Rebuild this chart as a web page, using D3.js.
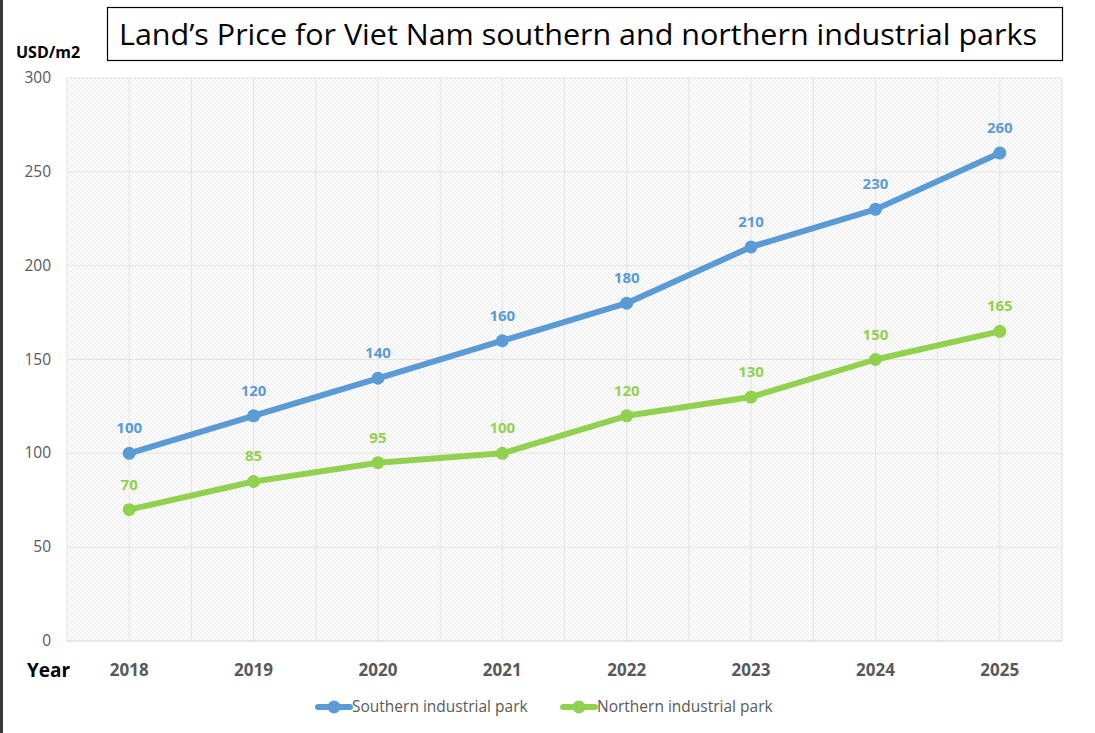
<!DOCTYPE html>
<html lang="en">
<head>
<meta charset="UTF-8">
<title>Land's Price for Viet Nam industrial parks</title>
<script src="https://d3js.org/d3.v7.min.js"></script>
<style>
    body { margin: 0; background: #fff; }
    svg { display: block; }
    .ytick text { font: 15.5px "Open Sans", sans-serif; fill: #595959; }
    .xtick text { font: bold 17px "Open Sans", sans-serif; fill: #595959; }
    .legend text { font: 15.5px "Open Sans", sans-serif; fill: #595959; }
    .label { font: bold 15px "Open Sans", sans-serif; }
</style>
</head>
<body>
<div id="chart"></div>
<script>
    // data
    const years = ["2018", "2019", "2020", "2021", "2022", "2023", "2024", "2025"];
    const southern = [100, 120, 140, 160, 180, 210, 230, 260];
    const northern = [70, 85, 95, 100, 120, 130, 150, 165];
    const yTicks = [0, 50, 100, 150, 200, 250, 300];

    const width = 1095, height = 733;
    const plot = {left: 67, right: 1062, top: 78, bottom: 641};

    const svg = d3.select("#chart").append("svg")
        .attr("width", width)
        .attr("height", height);

    // left dark border
    svg.append("rect").attr("x", 0).attr("y", 0).attr("width", 3).attr("height", height).attr("fill", "#3a3a3a");

    const x = d3.scaleBand().domain(years).range([plot.left, plot.right]);
    const y = d3.scaleLinear().domain([0, 300]).range([plot.bottom, plot.top]);

    // hatch pattern for plot background
    const defs = svg.append("defs");
    const pat = defs.append("pattern")
        .attr("id", "hatch")
        .attr("patternUnits", "userSpaceOnUse")
        .attr("width", 4).attr("height", 4);
    pat.append("rect").attr("width", 4).attr("height", 4).attr("fill", "#fff");
    pat.append("path")
        .attr("d", "M-1,-1 L5,5 M-1,3 L1,5 M3,-1 L5,1")
        .attr("stroke", "#e6e6e6").attr("stroke-width", 1);

    svg.append("rect")
        .attr("x", plot.left).attr("y", plot.top)
        .attr("width", plot.right - plot.left).attr("height", plot.bottom - plot.top)
        .attr("fill", "url(#hatch)");

    // horizontal gridlines
    svg.selectAll(".hgrid").data(yTicks).enter().append("line")
        .attr("x1", plot.left).attr("x2", plot.right)
        .attr("y1", d => y(d)).attr("y2", d => y(d))
        .attr("stroke", d => d === 0 ? "#d0d0d0" : "#e2e2e2").attr("stroke-width", 1);

    // vertical gridlines at category edges and centres
    const vpos = [];
    years.forEach(yr => { vpos.push(x(yr)); vpos.push(x(yr) + x.bandwidth() / 2); });
    vpos.push(plot.right);
    svg.selectAll(".vgrid").data(vpos).enter().append("line")
        .attr("x1", d => d).attr("x2", d => d)
        .attr("y1", plot.top).attr("y2", plot.bottom)
        .attr("stroke", "#e2e2e2").attr("stroke-width", 1);

    // y axis labels
    const yAxis = svg.append("g").attr("class", "ytick");
    yAxis.selectAll("text").data(yTicks).enter().append("text")
        .attr("x", 51).attr("y", d => y(d) + 5)
        .attr("text-anchor", "end")
        .text(d => d);

    // x axis labels
    const xAxis = svg.append("g").attr("class", "xtick");
    xAxis.selectAll("text").data(years).enter().append("text")
        .attr("x", d => x(d) + x.bandwidth() / 2).attr("y", 676)
        .attr("text-anchor", "middle")
        .text(d => d);

    svg.append("text").attr("x", 27).attr("y", 677)
        .style("font", "bold 19px 'Open Sans', sans-serif").attr("fill", "#000")
        .text("Year");
    svg.append("text").attr("x", 16).attr("y", 58)
        .style("font", "bold 16px 'Open Sans', sans-serif").attr("fill", "#000")
        .text("USD/m2");

    // title box
    svg.append("rect").attr("x", 107.5).attr("y", 7.5).attr("width", 955).attr("height", 53)
        .attr("fill", "#fff").attr("stroke", "#000").attr("stroke-width", 1.2);
    svg.append("text").attr("x", 119).attr("y", 45)
        .style("font", "29px 'Open Sans', sans-serif").attr("fill", "#000")
        .attr("textLength", 918).attr("lengthAdjust", "spacingAndGlyphs")
        .text("Land’s Price for Viet Nam southern and northern industrial parks");

    const series = [
        {name: "Southern industrial park", values: southern, color: "#5b9bd5"},
        {name: "Northern industrial park", values: northern, color: "#92d050"}
    ];

    const line = d3.line()
        .x((d, i) => x(years[i]) + x.bandwidth() / 2)
        .y(d => y(d));

    series.forEach(s => {
        const g = svg.append("g");
        g.append("path").attr("d", line(s.values))
            .attr("fill", "none").attr("stroke", s.color).attr("stroke-width", 6)
            .attr("stroke-linejoin", "round").attr("stroke-linecap", "round");
        g.selectAll("circle").data(s.values).enter().append("circle")
            .attr("cx", (d, i) => x(years[i]) + x.bandwidth() / 2)
            .attr("cy", d => y(d))
            .attr("r", 6.5).attr("fill", s.color);
        g.selectAll("text").data(s.values).enter().append("text")
            .attr("class", "label")
            .attr("x", (d, i) => x(years[i]) + x.bandwidth() / 2)
            .attr("y", d => y(d) - 20)
            .attr("text-anchor", "middle")
            .attr("fill", s.color)
            .text(d => d);
    });

    // legend
    const legend = svg.append("g").attr("class", "legend");
    const legendX = [318, 563];
    series.forEach((s, i) => {
        const lg = legend.append("g").attr("transform", "translate(" + legendX[i] + ",707)");
        lg.append("line").attr("x1", 0).attr("x2", 32).attr("y1", 0).attr("y2", 0)
            .attr("stroke", s.color).attr("stroke-width", 6).attr("stroke-linecap", "round");
        lg.append("circle").attr("cx", 16).attr("cy", 0).attr("r", 6.5).attr("fill", s.color);
        lg.append("text").attr("x", 34).attr("y", 5).text(s.name);
    });
</script>
</body>
</html>
